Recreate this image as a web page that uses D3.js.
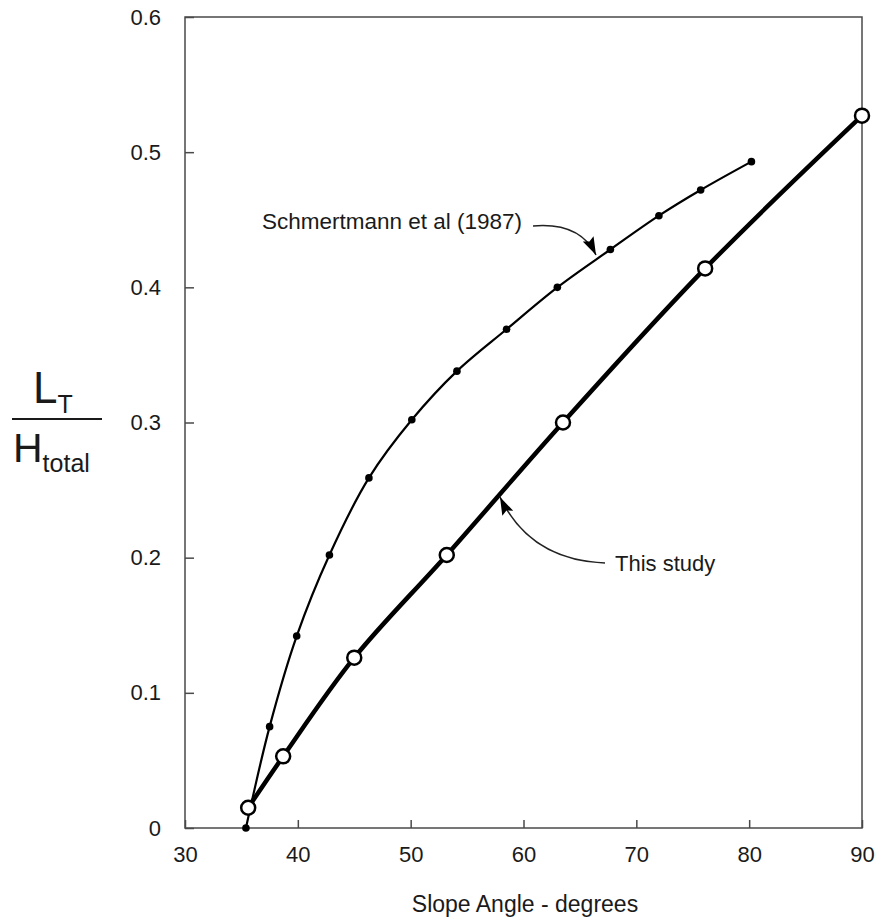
<!DOCTYPE html>
<html>
<head>
<meta charset="utf-8">
<script src="https://cdn.jsdelivr.net/npm/d3@7"></script>
<style>
    body { margin: 0; background: #fff; }
    text { font-family: Arial, "Liberation Sans", Helvetica, sans-serif; fill: #1a1a1a; }
    .axis text { font-size: 22px; }
    .axis line { stroke: #4a4a4a; stroke-width: 1.5px; }
</style>
</head>
<body>
<svg id="chart" width="878" height="920"></svg>
<script>
'use strict';

// Schmertmann et al (1987) curve.
var schmertAngle = [35.4, 37.5, 39.9, 42.8, 46.3, 50.1, 54.1, 58.5, 63.0, 67.7, 72.0, 75.7, 80.2];
var schmertRatio = [0, 0.075, 0.142, 0.202, 0.259, 0.302, 0.338, 0.369, 0.400, 0.428, 0.453, 0.472, 0.493];

// This study.
var studyAngle = [35.6, 38.7, 45.0, 53.2, 63.5, 76.1, 90.0];
var studyRatio = [0.015, 0.053, 0.126, 0.202, 0.300, 0.414, 0.527];

var xTicks = [30, 40, 50, 60, 70, 80, 90];
var yTicks = [0, 0.1, 0.2, 0.3, 0.4, 0.5, 0.6];
var yTickLabels = ['0', '0.1', '0.2', '0.3', '0.4', '0.5', '0.6'];

var margin = {top: 17, right: 16, bottom: 92, left: 185};
var width = 878 - margin.left - margin.right;
var height = 920 - margin.top - margin.bottom;

var svg = d3.select('#chart');
var g = svg.append('g')
    .attr('transform', 'translate(' + margin.left + ',' + margin.top + ')');

var xScale = d3.scaleLinear().domain([30, 90]).range([0, width]);
var yScale = d3.scaleLinear().domain([0, 0.6]).range([height, 0]);

// Axes with inward ticks.
var xAxis = d3.axisBottom(xScale)
    .tickValues(xTicks)
    .tickSizeInner(-8)
    .tickSizeOuter(0)
    .tickPadding(18)
    .tickFormat(d3.format('d'));
g.append('g')
    .attr('class', 'axis')
    .attr('transform', 'translate(0,' + height + ')')
    .call(xAxis)
    .call(function(s) { s.select('.domain').remove(); });

var yAxis = d3.axisLeft(yScale)
    .tickValues(yTicks)
    .tickSizeInner(-9)
    .tickSizeOuter(0)
    .tickPadding(24)
    .tickFormat(function(d, i) { return yTickLabels[i]; });
g.append('g')
    .attr('class', 'axis')
    .call(yAxis)
    .call(function(s) { s.select('.domain').remove(); });

// Frame.
g.append('rect')
    .attr('width', width)
    .attr('height', height)
    .attr('fill', 'none')
    .attr('stroke', '#4a4a4a')
    .attr('stroke-width', 1.5);

var schmert = schmertAngle.map(function(a, i) { return {x: a, y: schmertRatio[i]}; });
var study = studyAngle.map(function(a, i) { return {x: a, y: studyRatio[i]}; });

var line = d3.line()
    .x(function(d) { return xScale(d.x); })
    .y(function(d) { return yScale(d.y); })
    .curve(d3.curveCatmullRom.alpha(0.5));

g.append('path')
    .datum(schmert)
    .attr('d', line)
    .attr('fill', 'none')
    .attr('stroke', '#000')
    .attr('stroke-width', 2.2);

g.append('path')
    .datum(study)
    .attr('d', line)
    .attr('fill', 'none')
    .attr('stroke', '#000')
    .attr('stroke-width', 4.5);

g.selectAll('circle.dot')
    .data(schmert)
    .enter()
    .append('circle')
    .attr('class', 'dot')
    .attr('cx', function(d) { return xScale(d.x); })
    .attr('cy', function(d) { return yScale(d.y); })
    .attr('r', 3.8)
    .attr('fill', '#000');

g.selectAll('circle.open')
    .data(study)
    .enter()
    .append('circle')
    .attr('class', 'open')
    .attr('cx', function(d) { return xScale(d.x); })
    .attr('cy', function(d) { return yScale(d.y); })
    .attr('r', 7)
    .attr('fill', '#fff')
    .attr('stroke', '#000')
    .attr('stroke-width', 2.5);

// Arrowhead marker.
svg.append('defs').append('marker')
    .attr('id', 'arrow')
    .attr('viewBox', '0 0 18 12')
    .attr('refX', 18)
    .attr('refY', 6)
    .attr('markerWidth', 18)
    .attr('markerHeight', 12)
    .attr('markerUnits', 'userSpaceOnUse')
    .attr('orient', 'auto')
    .append('path')
    .attr('d', 'M0,0L18,6L0,12L3,6Z')
    .attr('fill', '#000');

// Annotations (page coordinates).
svg.append('path')
    .attr('d', 'M533,226 Q580,222 596,255')
    .attr('fill', 'none')
    .attr('stroke', '#222')
    .attr('stroke-width', 1.5)
    .attr('marker-end', 'url(#arrow)');
svg.append('text')
    .attr('x', 522)
    .attr('y', 229)
    .attr('text-anchor', 'end')
    .style('font-size', '22.5px')
    .text('Schmertmann et al (1987)');

svg.append('path')
    .attr('d', 'M605,563 Q530,560 500,497')
    .attr('fill', 'none')
    .attr('stroke', '#222')
    .attr('stroke-width', 1.5)
    .attr('marker-end', 'url(#arrow)');
svg.append('text')
    .attr('x', 615)
    .attr('y', 571)
    .style('font-size', '22px')
    .text('This study');

// X axis label.
svg.append('text')
    .attr('x', 525)
    .attr('y', 912)
    .attr('text-anchor', 'middle')
    .style('font-size', '23px')
    .text('Slope Angle - degrees');

// Y axis label as a fraction L_T / H_total.
var num = svg.append('text').attr('x', 33).attr('y', 403);
num.append('tspan').style('font-size', '44px').text('L');
num.append('tspan').attr('y', 413).style('font-size', '25px').text('T');
svg.append('line')
    .attr('x1', 12).attr('x2', 102)
    .attr('y1', 419).attr('y2', 419)
    .attr('stroke', '#1a1a1a')
    .attr('stroke-width', 2);
var den = svg.append('text').attr('x', 13).attr('y', 462);
den.append('tspan').style('font-size', '41px').text('H');
den.append('tspan').attr('y', 472).style('font-size', '25px').text('total');
</script>
</body>
</html>
